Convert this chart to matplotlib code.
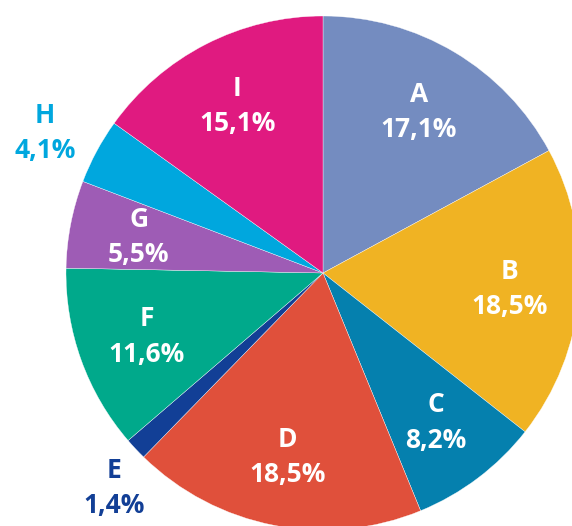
import numpy as np
import matplotlib.pyplot as plt

labels = ["A", "B", "C", "D", "E", "F", "G", "H", "I"]
shares = [17.1, 18.5, 8.2, 18.5, 1.4, 11.6, 5.5, 4.1, 15.1]
colors = ["#748CC0", "#F0B323", "#0580AE", "#E0503B", "#123F96",
          "#00A98B", "#9E5CB5", "#00A7DE", "#E01A80"]
# small slices get their label outside the pie, in the slice colour
outside = {"E": 1.17, "H": 1.21}
nudge = {"E": (10, -9), "H": (-4, -7)}

FONT = ["Open Sans", "DejaVu Sans"]

fig = plt.figure(figsize=(5.72, 5.26), dpi=100)
ax = fig.add_axes([0, 0, 1, 1])

cx, cy, r = 323, 253, 257
wedges, _ = ax.pie(shares, colors=colors, startangle=90, counterclock=False,
                   center=(cx, cy), radius=r, frame=True,
                   wedgeprops=dict(linewidth=0.25, edgecolor="white"))
ax.set_xlim(0, 572)
ax.set_ylim(0, 526)
ax.set_aspect("equal")
ax.axis("off")

start = 90.0
for lab, val, col in zip(labels, shares, colors):
    mid = np.deg2rad(start - val * 3.6 / 2)
    start -= val * 3.6
    dist = outside.get(lab, 0.73)
    tcol = col if lab in outside else "white"
    dx, dy = nudge.get(lab, (0, 0))
    x = cx + dist * r * np.cos(mid) + dx
    y = cy + dist * r * np.sin(mid) + dy
    txt = f"{lab}\n{val:.1f}%".replace(".", ",")
    ax.text(x, y, txt, ha="center", va="center", color=tcol, fontsize=19,
            fontweight="bold", family=FONT, linespacing=1.4,
            multialignment="center")

fig.savefig("out.png", dpi=100)
